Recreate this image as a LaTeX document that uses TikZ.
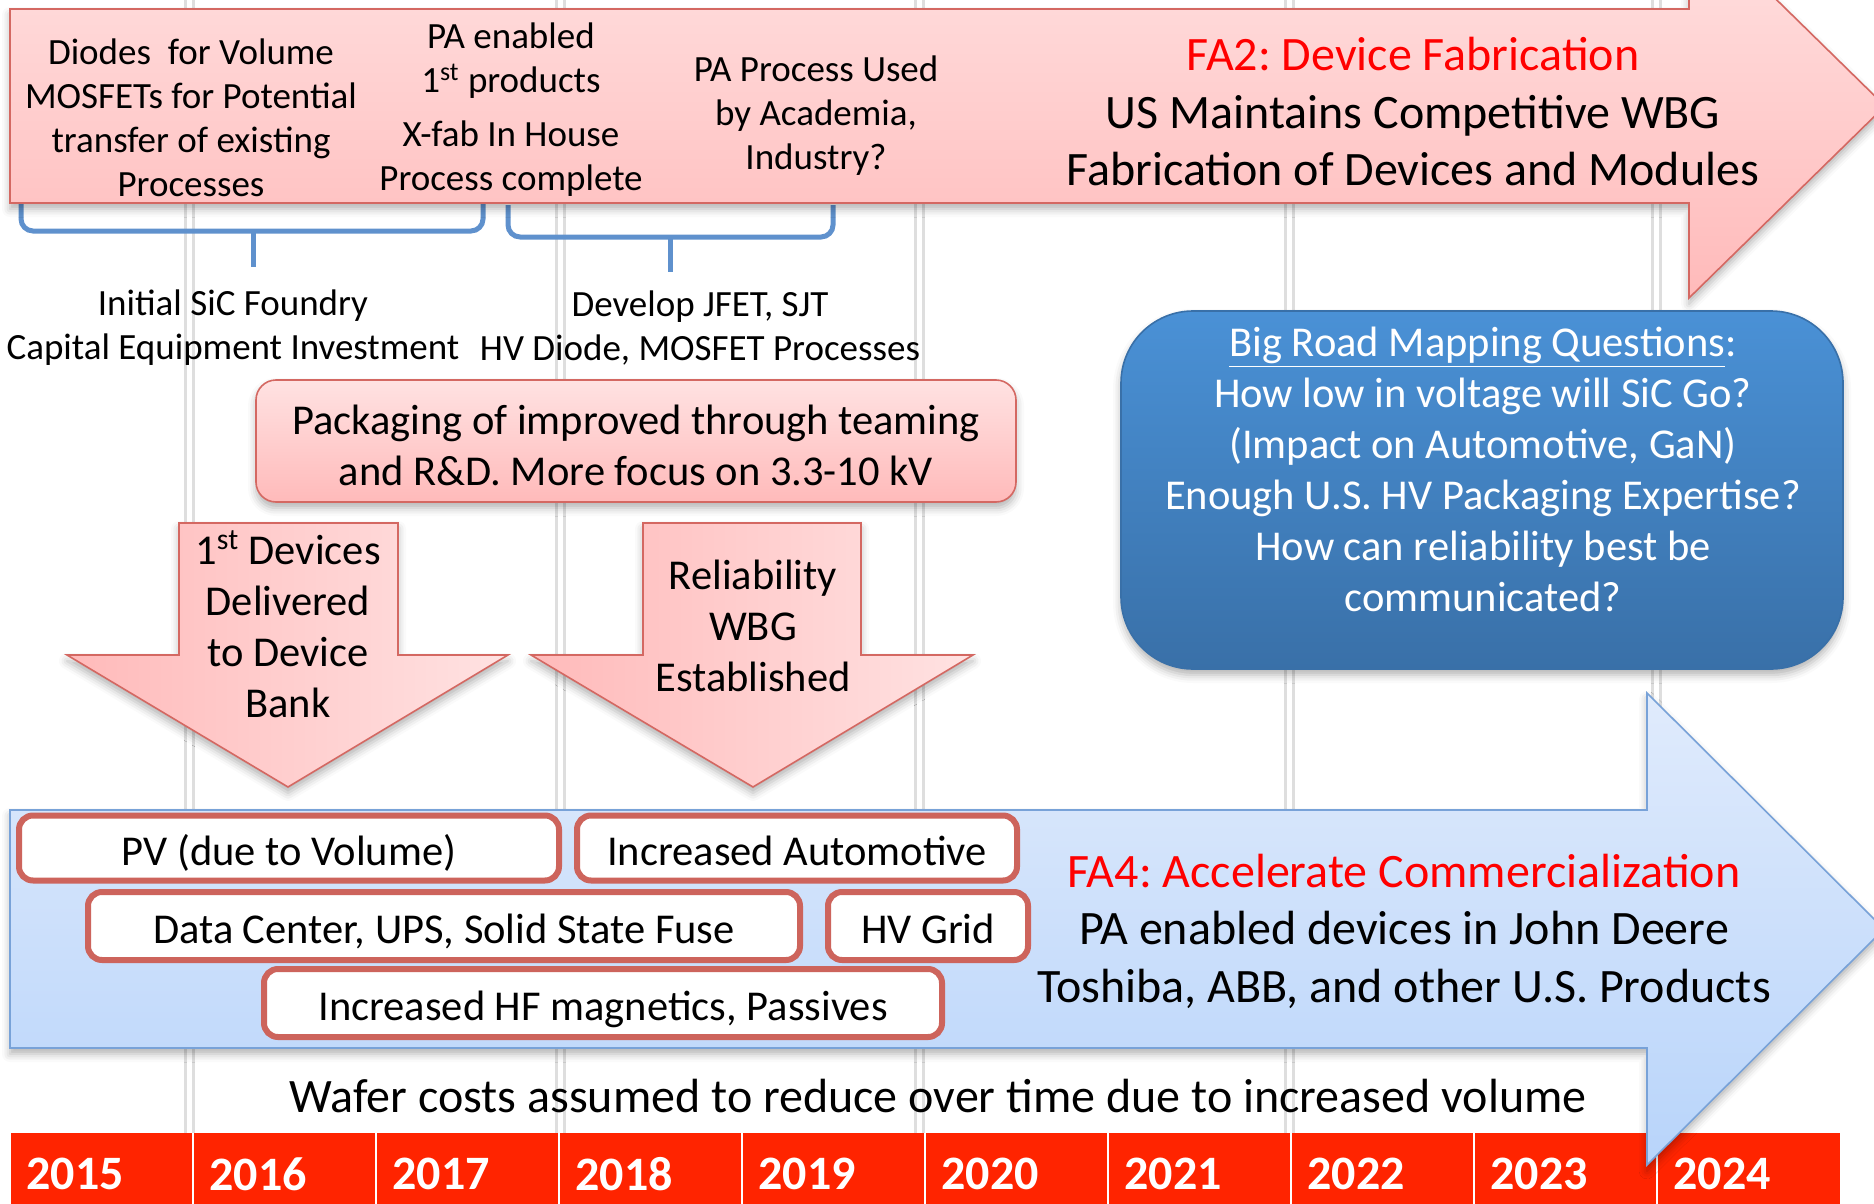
\documentclass[tikz,border=0pt]{standalone}
\usepackage{fontspec}
\setmainfont{Carlito}
\usepackage{tikz}
\usetikzlibrary{shadows.blur}
\frenchspacing

\definecolor{pinkhi}{RGB}{255,226,226}
\definecolor{pinklo}{RGB}{255,186,186}
\definecolor{pinkline}{RGB}{212,104,98}
\definecolor{bluehi}{RGB}{224,235,252}
\definecolor{bluelo}{RGB}{184,212,250}
\definecolor{blueline}{RGB}{120,162,216}
\definecolor{qtop}{RGB}{74,145,214}
\definecolor{qbot}{RGB}{57,112,168}
\definecolor{bracecol}{RGB}{95,145,205}
\definecolor{yearred}{RGB}{255,36,0}
\definecolor{boxline}{RGB}{205,100,92}
\definecolor{gridcol}{RGB}{222,222,222}
\definecolor{titlered}{RGB}{255,0,0}

\newcommand{\fsS}{\fontsize{18.5}{22}\selectfont}
\newcommand{\fsM}{\fontsize{21.25}{25.5}\selectfont}
\newcommand{\fsL}{\fontsize{24}{28.75}\selectfont}

\begin{document}
\begin{tikzpicture}[x=0.5pt, y=-0.5pt]
		\tikzstyle{txt} = [inner sep=0pt, align=center]
		\tikzstyle{gridline} = [gridcol, line width=1.5pt]
		\tikzstyle{brace} = [bracecol, line width=2.5pt, rounded corners=6pt]
		\tikzstyle{pinkband} = [draw=pinkline, line width=0.8pt, top color=pinkhi, bottom color=pinklo]
		\tikzstyle{pinkdown} = [draw=pinkline, line width=0.8pt, left color=pinklo, right color=pinkhi]
		\tikzstyle{blueband} = [draw=blueline, line width=0.8pt, top color=bluehi, bottom color=bluelo]
		\tikzstyle{market} = [draw=boxline, line width=3pt, fill=white, rounded corners=7pt, inner sep=0pt,
			text height=17.2pt, text depth=0pt, font=\fsM]
		\tikzstyle{yeartxt} = [inner sep=0pt, text=white, font=\fsL\bfseries]
		\tikzstyle{shadowed} = [blur shadow={shadow xshift=0pt, shadow yshift=-3pt, shadow blur radius=4pt, shadow opacity=30}]

		\useasboundingbox (0,0) rectangle (1874,1204);
		\clip (0,0) rectangle (1874,1204);

		% year grid
		\foreach \gx in {189,560,919,1289,1656}{
			\draw[gridline] (\gx-4,0) -- (\gx-4,1133);
			\draw[gridline] (\gx+4,0) -- (\gx+4,1133);
		}

		% time line
		\foreach \i in {0,...,9}{
			\pgfmathtruncatemacro{\yr}{2015+\i}
			\pgfmathsetmacro{\xa}{10+183*\i}
			\fill[yearred] (\xa,1133) rectangle ++(183,71);
			\draw[white, line width=1pt] (\xa,1133) -- ++(0,71);
			\node[yeartxt, anchor=west] (y\yr) at (\xa+16,1174) {\yr};
		}

		% FA4 arrow
		\path[blueband, shadowed] (10,810) -- (1647,810) -- (1647,693) -- (1884,929)
			-- (1647,1165) -- (1647,1048) -- (10,1048) -- cycle;

		\node[market, minimum width=270pt, minimum height=32.5pt] (pv) at (289,848) {PV (due to Volume)};
		\node[market, minimum width=220pt, minimum height=32.5pt] (auto) at (797,848) {Increased Automotive};
		\node[market, minimum width=356pt, minimum height=34pt] (dc) at (444,926) {Data Center, UPS, Solid State Fuse};
		\node[market, minimum width=100pt, minimum height=34pt] (hv) at (928,926) {HV Grid};
		\node[market, minimum width=339pt, minimum height=34pt] (hf) at (603,1003) {Increased HF magnetics, Passives};

		\node[txt, font=\fsL] (fa4) at (1404,931) {\textcolor{titlered}{FA4: Accelerate Commercialization}\\
			PA enabled devices in John Deere\\Toshiba, ABB, and other U.S. Products};

		\node[txt, font=\fsL] (wafer) at (938,1096) {Wafer costs assumed to reduce over time due to increased volume};

		% braces under FA2
		\draw[brace] (21,200) |- (253,231) -| (483,200);
		\draw[brace] (253,231) -- (253,267);
		\draw[brace] (508,205) |- (670,237) -| (833,205);
		\draw[brace] (670,237) -- (670,272);

		\node[txt, font=\fsS] (found) at (233,328) {Initial SiC Foundry\\Capital Equipment Investment};
		\node[txt, font=\fsS] (proc) at (700,328) {Develop JFET, SJT\\HV Diode, MOSFET Processes};

		% FA2 arrow
		\path[pinkband, shadowed] (10,9) -- (1689,9) -- (1689,-86) -- (1885,106)
			-- (1689,298) -- (1689,203) -- (10,203) -- cycle;

		\node[txt, font=\fsS] (diodes) at (191,118) {Diodes\ \ for Volume\\MOSFETs for Potential\\transfer of existing\\Processes};
		\node[txt, font=\fsS] (first) at (511,61) {PA enabled\\1\textsuperscript{st} products};
		\node[txt, font=\fsS] (xfab) at (511,159) {X-fab In House\\Process complete};
		\node[txt, font=\fsS] (acad) at (816,116) {PA Process Used\\by Academia,\\Industry?};
		\node[txt, font=\fsL] (fa2) at (1413,112) {\textcolor{titlered}{FA2: Device Fabrication}\\
			US Maintains Competitive WBG\\Fabrication of Devices and Modules};

		% packaging
		\node[pinkband, shadowed, rounded corners=10pt, minimum width=380pt, minimum height=61pt] (pack) at (636,441) {};
		\node[txt, font=\fsM] (packtext) at (636,445) {Packaging of improved through teaming\\and R\&D. More focus on 3.3-10 kV};

		% milestone arrows
		\path[pinkdown, shadowed] (179,523) -- (398,523) -- (398,655) -- (508,655)
			-- (288,787) -- (67,655) -- (179,655) -- cycle;
		\path[pinkdown, shadowed] (643,523) -- (861,523) -- (861,655) -- (973,655)
			-- (753,787) -- (531,655) -- (643,655) -- cycle;

		\node[txt, font=\fsM] (bank) at (288,624) {1\textsuperscript{st} Devices\\Delivered\\to Device\\Bank};
		\node[txt, font=\fsM] (rel) at (753,626) {Reliability\\WBG\\Established};

		% questions
		\node[draw=qbot, line width=0.8pt, top color=qtop, bottom color=qbot, rounded corners=36pt,
			minimum width=361pt, minimum height=179pt, shadowed] (qbox) at (1482,490) {};
		\node[txt, font=\fsM, text=white] (qtext) at (1483,469) {\underline{Big Road Mapping Questions}:\\
			How low in voltage will SiC Go?\\(Impact on Automotive, GaN)\\Enough U.S. HV Packaging Expertise?\\
			How can reliability best be\\communicated?};

\end{tikzpicture}
\end{document}
